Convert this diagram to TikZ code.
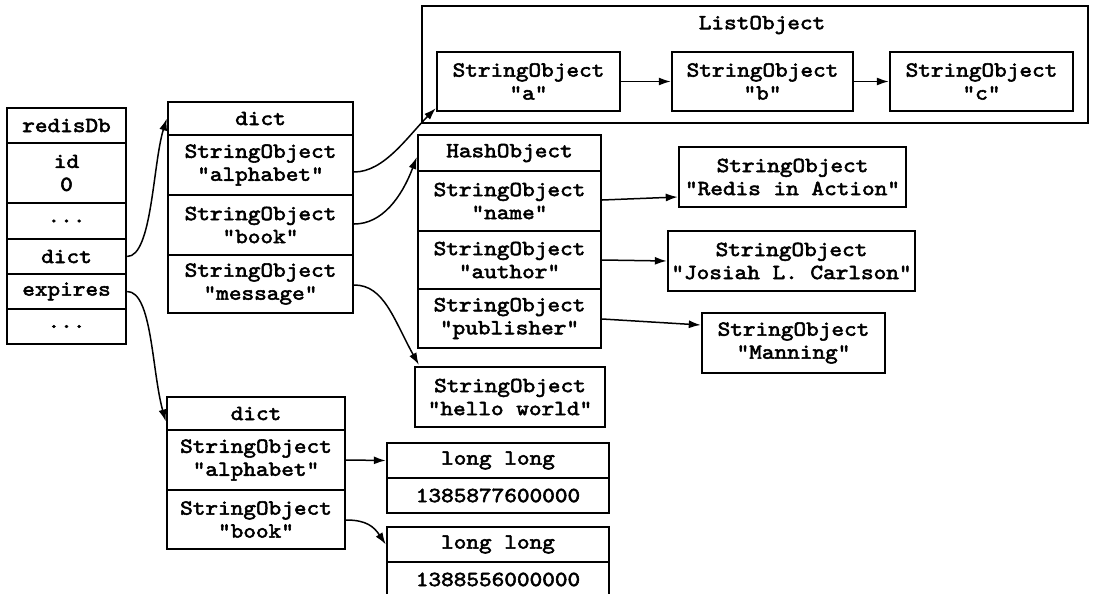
\documentclass[tikz,border=0pt]{standalone}
\usepackage{fontspec}
\newfontfamily\cellfont{lmmono10-regular.otf}[FakeStretch=1.12,FakeBold=2.5,Ligatures=ResetAll]
\usetikzlibrary{arrows.meta,calc}
\begin{document}
\begin{tikzpicture}[x=1pt,y=-1pt,
  cell/.style={draw, line width=2.4pt, inner sep=0pt, align=center,
    font=\cellfont\fontsize{21.5}{23}\selectfont},
  conn/.style={line width=1.5pt, -{Latex[length=12pt,width=8pt]}}]
\useasboundingbox (0,0) rectangle (1095,594);
\fill[white] (0,0) rectangle (1095,594);
\clip (0,0) rectangle (1095,594);
% redisDb
\node[cell, minimum width=119pt, minimum height=35pt] (rdb) at (66.5,125.5) {redisDb};
\node[cell, minimum width=119pt, minimum height=60pt] (rid) at (66.5,173) {id\\0};
\node[cell, minimum width=119pt, minimum height=36pt] (rdotsa) at (66.5,221) {...};
\node[cell, minimum width=119pt, minimum height=35pt] (rdict) at (66.5,256.5) {dict};
\node[cell, minimum width=119pt, minimum height=35pt] (rexp) at (66.5,291.5) {expires};
\node[cell, minimum width=119pt, minimum height=35pt] (rdotsb) at (66.5,326.5) {...};
% top dict
\node[cell, minimum width=185pt, minimum height=33pt] (d1h) at (260.5,118.5) {dict};
\node[cell, minimum width=185pt, minimum height=60pt] (d1a) at (260.5,165) {StringObject\\"alphabet"};
\node[cell, minimum width=185pt, minimum height=60pt] (d1b) at (260.5,225) {StringObject\\"book"};
\node[cell, minimum width=185pt, minimum height=58pt] (d1m) at (260.5,284) {StringObject\\"message"};
% ListObject
\node[cell, minimum width=666pt, minimum height=117pt] (lobj) at (755,64.5) {};
\node[cell, draw=none] (lotitle) at (762,25) {ListObject};
\node[cell, minimum width=183pt, minimum height=59pt] (la) at (528.5,81.5) {StringObject\\"a"};
\node[cell, minimum width=181pt, minimum height=59pt] (lb) at (762.5,81.5) {StringObject\\"b"};
\node[cell, minimum width=183pt, minimum height=59pt] (lc) at (981.5,81.5) {StringObject\\"c"};
% HashObject
\node[cell, minimum width=183pt, minimum height=36pt] (hh) at (509.5,153) {HashObject};
\node[cell, minimum width=183pt, minimum height=60pt] (hn) at (509.5,201) {StringObject\\"name"};
\node[cell, minimum width=183pt, minimum height=58pt] (ha) at (509.5,260) {StringObject\\"author"};
\node[cell, minimum width=183pt, minimum height=59pt] (hp) at (509.5,318.5) {StringObject\\"publisher"};
\node[cell, minimum width=190pt, minimum height=60pt] (hello) at (510,397) {StringObject\\"hello world"};
% values
\node[cell, minimum width=227pt, minimum height=60pt] (redis) at (792.5,177) {StringObject\\"Redis in Action"};
\node[cell, minimum width=247pt, minimum height=60pt] (josiah) at (791.5,261) {StringObject\\"Josiah L. Carlson"};
\node[cell, minimum width=183pt, minimum height=60pt] (manning) at (793.5,343) {StringObject\\"Manning"};
% bottom dict
\node[cell, minimum width=178pt, minimum height=33pt] (d2h) at (256,413.5) {dict};
\node[cell, minimum width=178pt, minimum height=60pt] (d2a) at (256,460) {StringObject\\"alphabet"};
\node[cell, minimum width=178pt, minimum height=59pt] (d2b) at (256,519.5) {StringObject\\"book"};
% long long
\node[cell, minimum width=222pt, minimum height=35pt] (lla) at (498,460.5) {long long};
\node[cell, minimum width=222pt, minimum height=35pt] (llav) at (498,495.5) {1385877600000};
\node[cell, minimum width=222pt, minimum height=35pt] (llb) at (498,544.5) {long long};
\node[cell, minimum width=222pt, minimum height=35pt] (llbv) at (498,579.5) {1388556000000};
% connectors
\draw[conn] (rdict.east) .. controls +(25,0) and +(-14,45) .. (d1h.west);
\draw[conn] (rexp.east) .. controls +(25,0) and +(-14,-50) .. ($(d2h.west)+(0,8)$);
\draw[conn] ($(d1a.east)+(0,7)$) .. controls +(30,0) and +(-28,28) .. ($(la.south west)+(0,-4)$);
\draw[conn] ($(d1b.east)+(0,-1)$) .. controls +(28,0) and +(-15,40) .. ($(hh.west)+(0,4)$);
\draw[conn] ($(d1m.east)+(0,1)$) .. controls +(30,0) and +(-25,-45) .. ($(hello.north west)+(5,-1)$);
\draw[conn] ($(hn.east)+(0,-1)$) -- ($(redis.west)+(0,20)$);
\draw[conn] (ha.east) -- (josiah.west);
\draw[conn] ($(hp.east)+(0,0.5)$) -- ($(manning.west)+(0,-18)$);
\draw[conn] (la.east) -- (lb.west);
\draw[conn] (lb.east) -- (lc.west);
\draw[conn] (d2a.east) -- (lla.west);
\draw[conn] ($(d2b.east)+(0,0.5)$) .. controls +(20,0) and +(-12,-18) .. (llb.west);
\end{tikzpicture}
\end{document}
